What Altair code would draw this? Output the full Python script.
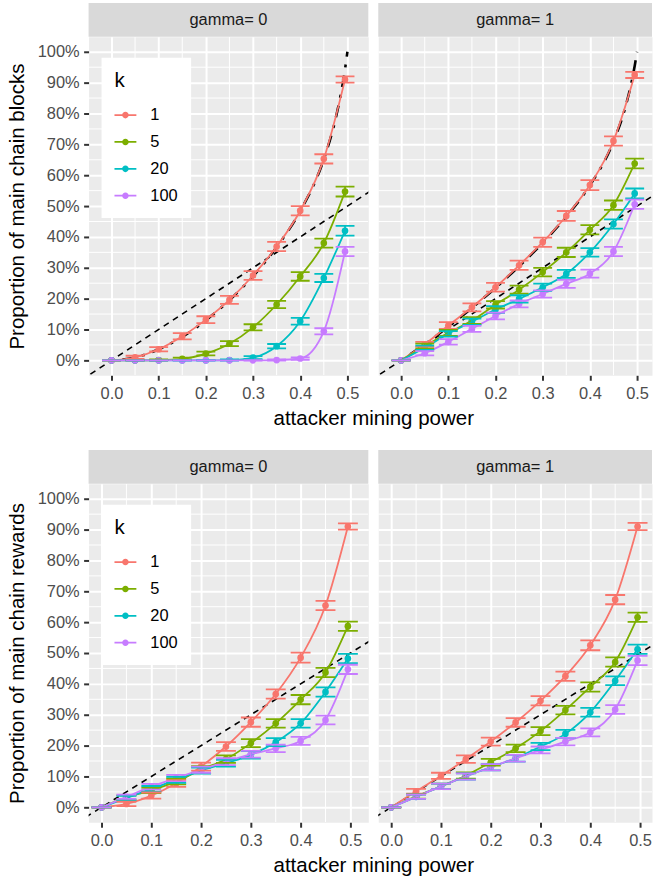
import altair as alt
import pandas as pd

FONT = "Liberation Sans"

# ---------------- data ----------------
x_vals = [0, 0.05, 0.1, 0.15, 0.2, 0.25, 0.3, 0.35, 0.4, 0.45, 0.495]
k_levels = ["1", "5", "20", "100"]
k_colors = ["#F8766D", "#7CAE00", "#00BFC4", "#C77CFF"]

# Proportion of main chain blocks (%), gamma = 0
blocks_g0_k1 = [0, 1.0, 3.6, 7.8, 13.2, 19.6, 27.5, 36.9, 48.5, 65.3, 91.0]
blocks_g0_k5 = [0, 0.0, 0.1, 0.5, 2.2, 5.4, 10.7, 18.1, 27.2, 38.0, 54.7]
blocks_g0_k20 = [0, 0, 0, 0, 0, 0.1, 0.9, 4.6, 12.7, 26.7, 42.0]
blocks_g0_k100 = [0, 0, 0, 0, 0, 0, 0, 0.1, 0.6, 9.4, 35.3]
blocks_g0_e1 = [0, 0.5, 0.7, 1.0, 1.1, 1.3, 1.4, 1.5, 1.5, 1.5, 1.0]
blocks_g0_e5 = [0, 0.1, 0.2, 0.4, 0.6, 0.8, 1.0, 1.2, 1.4, 1.45, 1.6]
blocks_g0_e20 = [0, 0, 0, 0, 0.1, 0.2, 0.5, 0.7, 1.1, 1.3, 1.6]
blocks_g0_e100 = [0, 0, 0, 0, 0, 0, 0.1, 0.2, 0.4, 1.0, 1.5]

# Proportion of main chain blocks (%), gamma = 1
blocks_g1_k1 = [0, 5.2, 11.3, 17.2, 23.7, 30.8, 38.3, 46.8, 56.8, 71.1, 92.5]
blocks_g1_k5 = [0, 4.6, 8.9, 12.9, 18.0, 22.9, 28.6, 35.0, 42.3, 50.3, 63.8]
blocks_g1_k20 = [0, 4.1, 8.6, 12.5, 16.5, 19.9, 23.7, 28.0, 35.0, 44.2, 54.1]
blocks_g1_k100 = [0, 2.3, 6.0, 10.2, 14.4, 18.3, 21.5, 24.8, 28.1, 35.3, 50.6]
blocks_g1_e1 = [0, 0.8, 1.1, 1.3, 1.4, 1.5, 1.5, 1.6, 1.6, 1.5, 1.0]
blocks_g1_e5 = [0, 0.8, 1.0, 1.1, 1.2, 1.3, 1.4, 1.5, 1.5, 1.5, 1.6]
blocks_g1_e20 = [0, 0.7, 0.9, 1.0, 1.1, 1.2, 1.2, 1.3, 1.4, 1.5, 1.6]
blocks_g1_e100 = [0, 0.7, 0.9, 1.0, 1.1, 1.1, 1.2, 1.3, 1.3, 1.5, 1.5]

# Proportion of main chain rewards (%), gamma = 0
rewards_g0_k1 = [0, 1.1, 3.8, 7.8, 13.2, 19.7, 27.6, 36.7, 48.5, 65.4, 91.0]
rewards_g0_k5 = [0, 3.2, 5.5, 8.4, 12.2, 15.6, 20.8, 27.2, 34.9, 43.7, 58.7]
rewards_g0_k20 = [0, 3.0, 6.0, 8.9, 11.9, 14.3, 17.0, 21.1, 27.2, 37.4, 48.2]
rewards_g0_k100 = [0, 3.4, 6.7, 9.5, 12.2, 14.8, 17.2, 19.1, 21.5, 28.3, 44.7]
rewards_g0_e1 = [0, 0.7, 1.0, 1.2, 1.3, 1.4, 1.5, 1.5, 1.6, 1.5, 1.0]
rewards_g0_e5 = [0, 0.7, 0.9, 1.0, 1.1, 1.2, 1.3, 1.4, 1.5, 1.5, 1.5]
rewards_g0_e20 = [0, 0.7, 0.9, 1.0, 1.0, 1.1, 1.2, 1.3, 1.4, 1.5, 1.5]
rewards_g0_e100 = [0, 0.7, 0.9, 1.0, 1.0, 1.1, 1.1, 1.2, 1.3, 1.4, 1.5]

# Proportion of main chain rewards (%), gamma = 1
rewards_g1_k1 = [0, 5.2, 10.2, 15.6, 21.3, 27.5, 34.5, 42.5, 52.5, 67.3, 91.0]
rewards_g1_k5 = [0, 3.5, 6.8, 10.3, 14.6, 19.1, 24.7, 31.5, 39.0, 47.1, 61.6]
rewards_g1_k20 = [0, 3.4, 6.8, 10.0, 13.0, 15.9, 19.7, 23.8, 30.8, 41.0, 51.2]
rewards_g1_k100 = [0, 3.4, 6.8, 10.0, 13.0, 15.9, 18.6, 21.3, 24.3, 31.7, 47.6]
rewards_g1_e1 = [0, 0.8, 1.0, 1.2, 1.3, 1.4, 1.5, 1.5, 1.6, 1.5, 1.2]
rewards_g1_e5 = [0, 0.7, 0.9, 1.0, 1.1, 1.2, 1.3, 1.4, 1.5, 1.5, 1.5]
rewards_g1_e20 = [0, 0.7, 0.9, 1.0, 1.0, 1.1, 1.2, 1.3, 1.4, 1.4, 1.5]
rewards_g1_e100 = [0, 0.7, 0.9, 1.0, 1.0, 1.1, 1.1, 1.2, 1.3, 1.4, 1.5]

# theoretical curve (black dash-dot), %
theo_x = [0, 0.05, 0.1, 0.15, 0.2, 0.25, 0.3, 0.35, 0.4, 0.45, 0.475, 0.49, 0.495, 0.5]
theo_g0 = [0, 0.9, 3.6, 7.6, 13.0, 19.5, 27.3, 36.7, 48.4, 65.2, 78.3, 89.6, 94.4, 100]
theo_g1 = [0, 5.2, 10.9, 17.0, 23.5, 30.5, 38.1, 46.6, 56.7, 70.9, 81.9, 91.4, 95.4, 100]

diag_x = [-0.2, 0.7]

x_major = [0, 0.1, 0.2, 0.3, 0.4, 0.5]
x_minor = [0.05, 0.15, 0.25, 0.35, 0.45]
y_major = [0, 0.1, 0.2, 0.3, 0.4, 0.5, 0.6, 0.7, 0.8, 0.9, 1.0]
y_minor = [0.05, 0.15, 0.25, 0.35, 0.45, 0.55, 0.65, 0.75, 0.85, 0.95]

CAP = 0.02
LEGEND_PATH = ("M-1,-0.08H1V0.08H-1Z "
               "M0.3,0A0.3,0.3,0,1,1,-0.3,0A0.3,0.3,0,1,1,0.3,0Z")


def series_df(vals, errs):
    rows = []
    for k, v_list, e_list in zip(k_levels, vals, errs):
        for x, v, e in zip(x_vals, v_list, e_list):
            rows.append(dict(x=x, y=v / 100, lo=(v - e) / 100, hi=(v + e) / 100,
                             xl=x - CAP, xr=x + CAP, k=k))
    return pd.DataFrame(rows)


def panel(df, theo, xdom, width, strip, y_title, left):
    xs = alt.Scale(domain=xdom, nice=False, zero=False)
    ys = alt.Scale(domain=[-0.0484, 1.0484], nice=False, zero=False)
    cs = alt.Scale(domain=k_levels, range=k_colors)
    if left:
        xaxis = alt.Axis(values=x_major, format=".1f", title="attacker mining power",
                         titleX=286, titlePadding=7)
        yaxis = alt.Axis(values=y_major, format=".0%", title=y_title, titlePadding=10)
    else:
        xaxis = alt.Axis(values=x_major, format=".1f", title=None)
        yaxis = alt.Axis(values=y_major, labels=False, ticks=False, title=None)

    def X(f):
        return alt.X(f"{f}:Q", scale=xs, axis=xaxis)

    def Y(f):
        return alt.Y(f"{f}:Q", scale=ys, axis=yaxis)

    col_nolegend = alt.Color("k:N", scale=cs, legend=None)
    if left:
        col_leg = alt.Color("k:N", scale=cs, legend=alt.Legend(
            title="k", orient="none", legendX=13, legendY=21, direction="vertical",
            fillColor="white", padding=13, symbolType=LEGEND_PATH, symbolSize=484,
            symbolStrokeWidth=0, symbolOpacity=1, labelFontSize=16.5, labelOffset=14,
            labelFont=FONT, titleFont=FONT, titleFontSize=20.6, titleFontWeight="normal",
            titlePadding=13, rowPadding=7, labelColor="black", titleColor="black"))
    else:
        col_leg = col_nolegend

    minx = alt.Chart(pd.DataFrame({"v": x_minor})).mark_rule(
        color="white", strokeWidth=1, clip=True).encode(x=X("v"))
    miny = alt.Chart(pd.DataFrame({"v": y_minor})).mark_rule(
        color="white", strokeWidth=1, clip=True).encode(y=Y("v"))
    diag = alt.Chart(pd.DataFrame({"x": diag_x, "y": diag_x})).mark_line(
        color="black", strokeDash=[6, 5], strokeWidth=1.6, clip=True).encode(x=X("x"), y=Y("y"))
    layers = [minx, miny, diag]
    if theo is not None:
        tdf = pd.DataFrame({"x": theo_x, "y": [v / 100 for v in theo]})
        layers.append(alt.Chart(tdf).mark_line(
            color="black", strokeDash=[3, 8, 12, 8], strokeWidth=2.6, clip=True,
            interpolate="monotone").encode(x=X("x"), y=Y("y")))
    base = alt.Chart(df)
    layers += [
        base.mark_circle(size=45, opacity=1, clip=True).encode(
            x=X("x"), y=Y("y"), color=col_leg),
        base.mark_line(strokeWidth=1.8, interpolate="monotone", clip=True).encode(
            x=X("x"), y=Y("y"), color=col_nolegend),
        base.mark_rule(strokeWidth=1.8, clip=True).encode(
            x=X("x"), y=Y("lo"), y2="hi", color=col_nolegend),
        base.mark_rule(strokeWidth=1.8, clip=True).encode(
            x=X("xl"), x2="xr", y=Y("lo"), color=col_nolegend),
        base.mark_rule(strokeWidth=1.8, clip=True).encode(
            x=X("xl"), x2="xr", y=Y("hi"), color=col_nolegend),
    ]
    sdf = pd.DataFrame({"label": [strip]})
    layers += [
        alt.Chart(sdf).mark_rect(color="#D9D9D9").encode(
            x=alt.value(0), x2=alt.value(width), y=alt.value(-34), y2=alt.value(0)),
        alt.Chart(sdf).mark_text(font=FONT, fontSize=16.5, color="#1A1A1A",
                                 baseline="middle").encode(
            x=alt.value(width / 2), y=alt.value(-17), text="label:N"),
    ]
    return alt.layer(*layers).resolve_legend(color="independent").properties(
        width=width, height=340)


df_bg0 = series_df([blocks_g0_k1, blocks_g0_k5, blocks_g0_k20, blocks_g0_k100],
                   [blocks_g0_e1, blocks_g0_e5, blocks_g0_e20, blocks_g0_e100])
df_bg1 = series_df([blocks_g1_k1, blocks_g1_k5, blocks_g1_k20, blocks_g1_k100],
                   [blocks_g1_e1, blocks_g1_e5, blocks_g1_e20, blocks_g1_e100])
df_rg0 = series_df([rewards_g0_k1, rewards_g0_k5, rewards_g0_k20, rewards_g0_k100],
                   [rewards_g0_e1, rewards_g0_e5, rewards_g0_e20, rewards_g0_e100])
df_rg1 = series_df([rewards_g1_k1, rewards_g1_k5, rewards_g1_k20, rewards_g1_k100],
                   [rewards_g1_e1, rewards_g1_e5, rewards_g1_e20, rewards_g1_e100])

top_dom_l = [-0.0485, 0.5443]
top_dom_r = [-0.0485, 0.5317]
bot_dom_l = [-0.026, 0.536]
bot_dom_r = [-0.026, 0.524]

res = dict(x="independent", y="independent", color="independent")

row_top = alt.hconcat(
    panel(df_bg0, theo_g0, top_dom_l, 281, "gamma= 0", "Proportion of main chain blocks", True),
    panel(df_bg1, theo_g1, top_dom_r, 275, "gamma= 1", None, False),
    spacing=10, bounds="flush").resolve_scale(**res)
row_bot = alt.hconcat(
    panel(df_rg0, None, bot_dom_l, 281, "gamma= 0", "Proportion of main chain rewards", True),
    panel(df_rg1, None, bot_dom_r, 275, "gamma= 1", None, False),
    spacing=10, bounds="flush").resolve_scale(**res)

chart = alt.vconcat(row_top, row_bot, spacing=19).resolve_scale(**res).properties(
    padding={"left": 6, "top": 0, "right": 0, "bottom": 0},
    background="white",
).configure_view(fill="#EBEBEB", stroke="transparent").configure_axis(
    grid=True, gridColor="white", gridWidth=2, domain=False,
    tickColor="#333333", tickWidth=2, tickSize=5,
    labelFont=FONT, labelFontSize=16.5, labelColor="#4D4D4D",
    titleFont=FONT, titleFontSize=20.6, titleFontWeight="normal", titleColor="black",
).configure_axisX(labelPadding=5).configure_axisY(labelPadding=4.5)

chart.save("out.html", embed_options={"renderer": "svg", "actions": False})
